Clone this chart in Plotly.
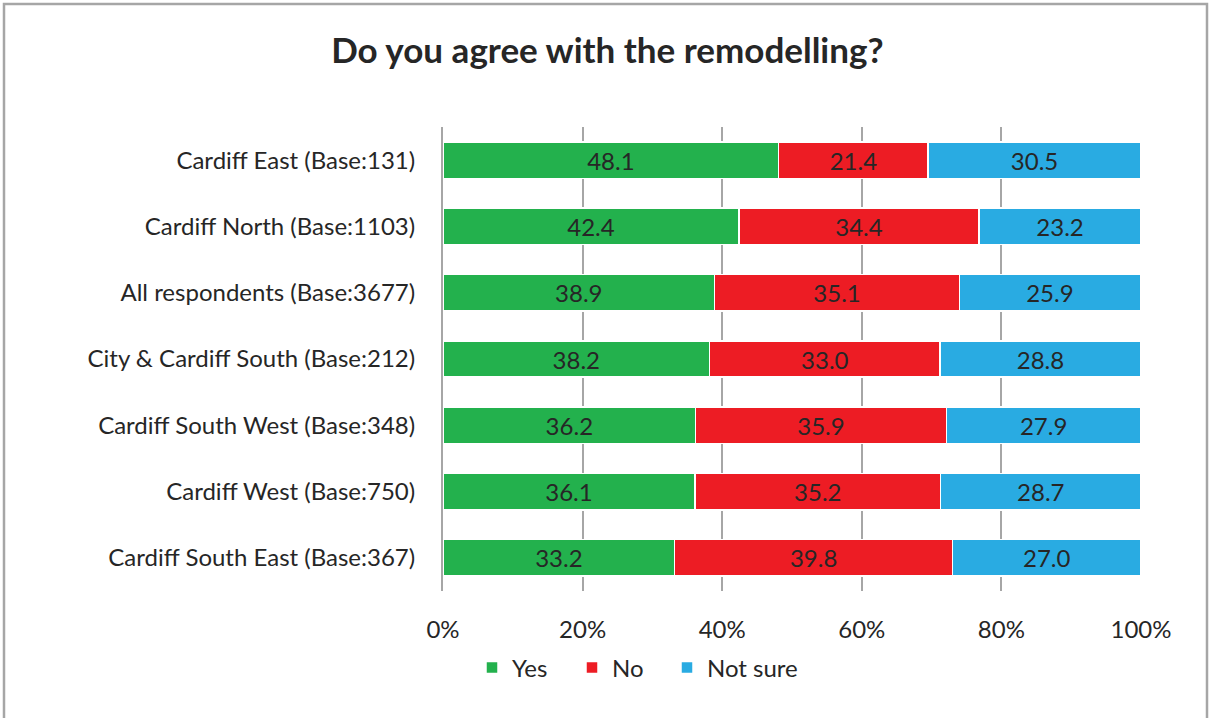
import plotly.graph_objects as go

categories = ["Cardiff East (Base:131)", "Cardiff North (Base:1103)", "All respondents (Base:3677)",
              "City & Cardiff South (Base:212)", "Cardiff South West (Base:348)",
              "Cardiff West (Base:750)", "Cardiff South East (Base:367)"]
yes = [48.1, 42.4, 38.9, 38.2, 36.2, 36.1, 33.2]
no = [21.4, 34.4, 35.1, 33.0, 35.9, 35.2, 39.8]
not_sure = [30.5, 23.2, 25.9, 28.8, 27.9, 28.7, 27.0]
series = [("Yes", yes, "#23B14D"), ("No", no, "#ED1C24"), ("Not sure", not_sure, "#29ABE2")]
x_ticks = [0, 20, 40, 60, 80, 100]
x_labels = ["0%", "20%", "40%", "60%", "80%", "100%"]

FONT = "Lato"
legend_ids = ["legend", "legend2", "legend3"]
legend_px = [472, 572, 667]

fig = go.Figure()
for (name, vals, col), lid in zip(series, legend_ids):
    fig.add_trace(go.Bar(
        y=categories, x=vals, name=name, orientation="h", legend=lid, showlegend=True,
        marker=dict(color=col, line=dict(color="white", width=1.5)),
        text=[f"{v:.1f}" for v in vals], textposition="inside", insidetextanchor="middle",
        textfont=dict(family=FONT, size=24, color="#262626"), width=0.55,
    ))

legend_layout = {}
for lid, px in zip(legend_ids, legend_px):
    legend_layout[lid] = dict(orientation="h", x=(px - 443) / 698, xanchor="left", y=-0.166,
                              yanchor="middle", bgcolor="rgba(0,0,0,0)",
                              font=dict(family=FONT, size=24, color="#262626"), itemwidth=30)

fig.update_layout(
    barmode="stack", width=1210, height=718, showlegend=True,
    margin=dict(l=443, r=69, t=127, b=127),
    paper_bgcolor="white", plot_bgcolor="white",
    title=dict(text="<b>Do you agree with the remodelling?</b>", x=0.502, xref="container",
               xanchor="center", y=0.93, yref="container", yanchor="middle",
               font=dict(family=FONT, size=35, color="#262626")),
    font=dict(family=FONT, size=24, color="#262626"),
    xaxis=dict(range=[0, 100], tickvals=x_ticks, ticktext=x_labels, showgrid=True,
               gridcolor="#A6A6A6", gridwidth=1.5, zeroline=False, showline=False,
               ticks="", ticklabelstandoff=22, fixedrange=True),
    yaxis=dict(autorange="reversed", showline=True, linecolor="#A6A6A6", linewidth=2,
               ticks="", ticklabelstandoff=21, showgrid=False),
    **legend_layout,
)
fig.add_shape(type="rect", xref="paper", yref="paper",
              x0=(4 - 443) / 698, x1=(1207 - 443) / 698, y0=(591 - 722) / 464, y1=(591 - 4) / 464,
              line=dict(color="#A6A6A6", width=2.5), fillcolor="rgba(0,0,0,0)", layer="below")
fig.write_html("out.html", post_script="document.body.style.margin='0';",
               config={"displayModeBar": False})
